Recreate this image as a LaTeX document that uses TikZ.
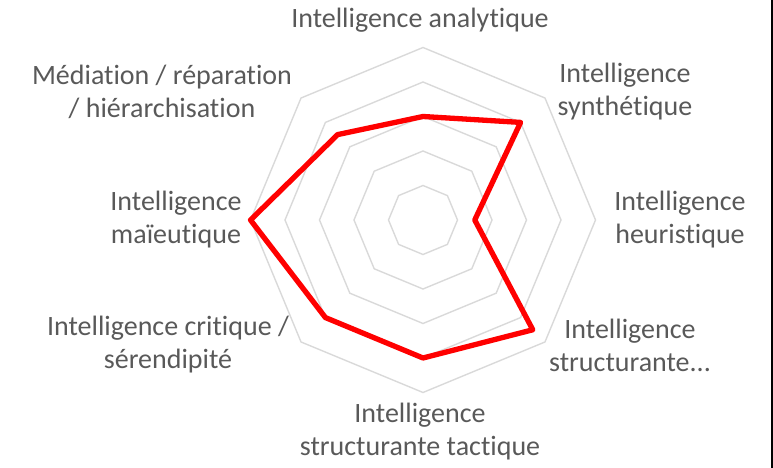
\documentclass[tikz,border=0pt]{standalone}
\usepackage{fontspec}
\setmainfont[Ligatures=NoCommon]{Carlito}
\definecolor{gridgray}{HTML}{D9D9D9}
\definecolor{labelgray}{HTML}{595959}
\definecolor{seriered}{HTML}{FF0000}
\begin{document}
\begin{tikzpicture}[x=1pt,y=1pt,
    ring/.style={draw=gridgray,line width=1.4pt},
    serie/.style={draw=seriered,line width=5.3pt,line join=round},
    lab/.style={text=labelgray,align=center,inner sep=0pt,font=\fontsize{28}{33}\selectfont}]
    \useasboundingbox (0,0) rectangle (773,468);
    \begin{scope}[shift={(423,248)}]
        \foreach \r in {34.5,69,103.5,138,172.5}
            \draw[ring] (0:\r) -- (45:\r) -- (90:\r) -- (135:\r) -- (180:\r) -- (225:\r) -- (270:\r) -- (315:\r) -- cycle;
        \coordinate (ana) at (90:103.5);
        \coordinate (syn) at (45:138);
        \coordinate (heu) at (0:51.75);
        \coordinate (str) at (-45:155.25);
        \coordinate (tac) at (-90:138);
        \coordinate (cri) at (-135:138);
        \coordinate (mai) at (180:172.5);
        \coordinate (med) at (135:120.75);
        \draw[serie] (ana) -- (syn) -- (heu) -- (str) -- (tac) -- (cri) -- (mai) -- (med) -- cycle;
    \end{scope}
    \node[lab] (lana) at (420,448) {Intelligence analytique};
    \node[lab] (lmed) at (162,376.5) {Médiation / réparation\\/ hiérarchisation};
    \node[lab] (lsyn) at (625,376.5) {Intelligence\\synthétique};
    \node[lab] (lheu) at (680,248) {Intelligence\\heuristique};
    \node[lab] (lmai) at (176,248) {Intelligence\\maïeutique};
    \node[lab] (lcri) at (168,123) {Intelligence critique /\\sérendipité};
    \node[lab] (lstr) at (630,123) {Intelligence\\structurante{.}{.}{.}};
    \node[lab] (ltac) at (420,36.5) {Intelligence\\structurante tactique};
    \draw[line width=1.8pt] (772.1,0) -- (772.1,468);
\end{tikzpicture}
\end{document}
